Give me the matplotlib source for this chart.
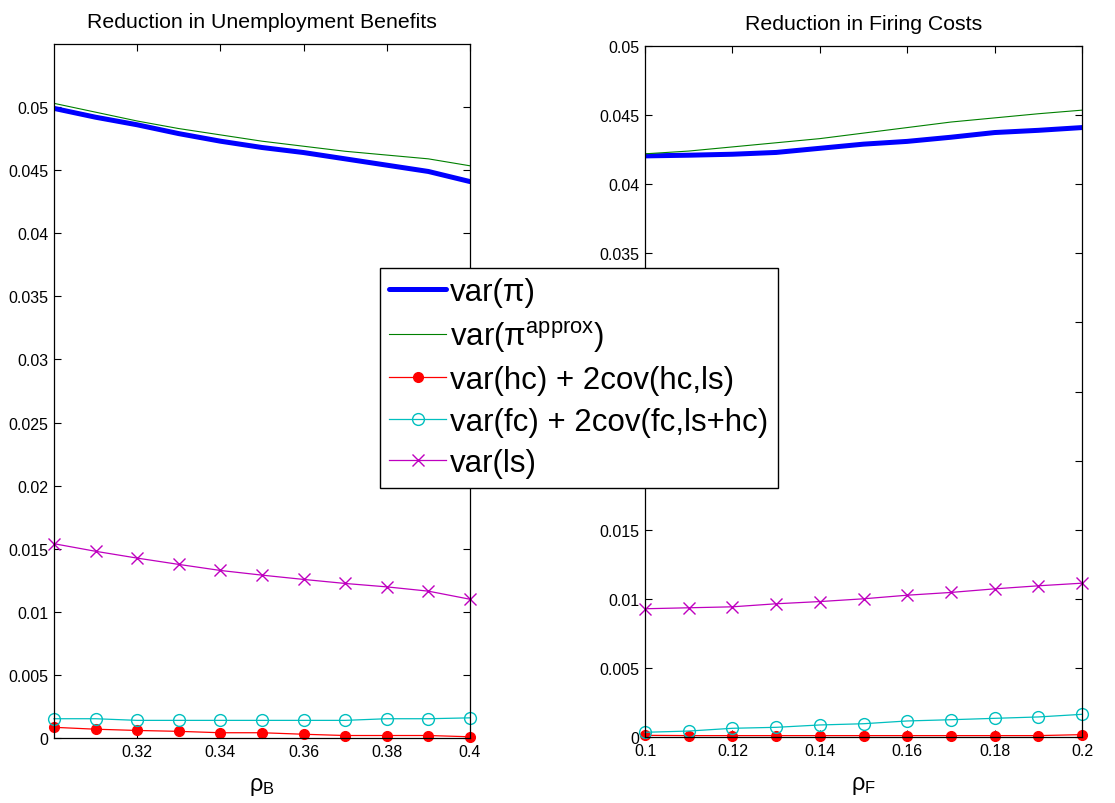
import matplotlib
matplotlib.use("Agg")
import matplotlib.pyplot as plt

plt.rcParams['font.family'] = ['Liberation Sans', 'DejaVu Sans']
plt.rcParams['mathtext.fontset'] = 'custom'
plt.rcParams['mathtext.rm'] = 'Liberation Sans'
plt.rcParams['mathtext.it'] = 'Liberation Sans'

# ---------------- data ----------------
rho_B = [0.30, 0.31, 0.32, 0.33, 0.34, 0.35, 0.36, 0.37, 0.38, 0.39, 0.40]
B_var_pi = [0.0499, 0.0492, 0.0486, 0.0479, 0.0473, 0.0468, 0.0464, 0.0459, 0.0454, 0.0449, 0.0441]
B_var_pi_approx = [0.0503, 0.0496, 0.0489, 0.0483, 0.0478, 0.0473, 0.0469, 0.0465, 0.0462, 0.0459, 0.04535]
B_hc = [0.00085, 0.0007, 0.0006, 0.00053, 0.00042, 0.00042, 0.0003, 0.0002, 0.0002, 0.0002, 0.0001]
B_fc = [0.00153, 0.00153, 0.0014, 0.0014, 0.0014, 0.0014, 0.0014, 0.0014, 0.00153, 0.00153, 0.0016]
B_ls = [0.0154, 0.0148, 0.01426, 0.01376, 0.01328, 0.01291, 0.01257, 0.01225, 0.01198, 0.01164, 0.0110]

rho_F = [0.10, 0.11, 0.12, 0.13, 0.14, 0.15, 0.16, 0.17, 0.18, 0.19, 0.20]
F_var_pi = [0.04205, 0.0421, 0.04217, 0.0423, 0.0426, 0.0429, 0.0431, 0.0434, 0.04374, 0.0439, 0.0441]
F_var_pi_approx = [0.0422, 0.0424, 0.0427, 0.0430, 0.0433, 0.0437, 0.0441, 0.0445, 0.0448, 0.0451, 0.04536]
F_hc = [0.00012, 0.0001, 0.0001, 0.0001, 0.0001, 0.0001, 0.0001, 0.0001, 0.0001, 0.0001, 0.00017]
F_fc = [0.00034, 0.00043, 0.00063, 0.0007, 0.00087, 0.00096, 0.00116, 0.00125, 0.00135, 0.00145, 0.00164]
F_ls = [0.00928, 0.00935, 0.00942, 0.00964, 0.0098, 0.0100, 0.01026, 0.01046, 0.01072, 0.01094, 0.01113]

titles = ["Reduction in Unemployment Benefits", "Reduction in Firing Costs"]
xlabels = [r"ρ$_{\rm B}$", r"ρ$_{\rm F}$"]
B_xticks = [0.32, 0.34, 0.36, 0.38, 0.40]
B_xticklabels = ["0.32", "0.34", "0.36", "0.38", "0.4"]
F_xticks = [0.10, 0.12, 0.14, 0.16, 0.18, 0.20]
F_xticklabels = ["0.1", "0.12", "0.14", "0.16", "0.18", "0.2"]
yticks = [0, 0.005, 0.01, 0.015, 0.02, 0.025, 0.03, 0.035, 0.04, 0.045, 0.05]
yticklabels = ["0", "0.005", "0.01", "0.015", "0.02", "0.025", "0.03", "0.035", "0.04", "0.045", "0.05"]
legend_labels = ["var(π)", r"var(π$^{\rm approx}$)", "var(hc) + 2cov(hc,ls)",
                 "var(fc) + 2cov(fc,ls+hc)", "var(ls)"]

C_BLUE = (0, 0, 1)
C_GREEN = (0, 0.5, 0)
C_RED = (1, 0, 0)
C_CYAN = (0, 0.75, 0.75)
C_MAG = (0.75, 0, 0.75)

fig = plt.figure(figsize=(11.15, 8.04), dpi=100)
ax1 = fig.add_axes([0.0484, 0.0808, 0.3731, 0.8632])
ax2 = fig.add_axes([0.5785, 0.0821, 0.3919, 0.8594])


def draw(ax, x, vp, vpa, hc, fc, ls):
    h = []
    h += ax.plot(x, vp, color=C_BLUE, lw=3.6, solid_capstyle='round')
    h += ax.plot(x, vpa, color=C_GREEN, lw=0.8)
    h += ax.plot(x, hc, color=C_RED, lw=0.9, marker='o', ms=7, mfc=C_RED, mec=C_RED, clip_on=False)
    h += ax.plot(x, fc, color=C_CYAN, lw=0.9, marker='o', ms=8.5, mfc='none', mec=C_CYAN, mew=1.0, clip_on=False)
    h += ax.plot(x, ls, color=C_MAG, lw=0.9, marker='x', ms=9, mec=C_MAG, mew=1.0, clip_on=False)
    return h


handles = draw(ax1, rho_B, B_var_pi, B_var_pi_approx, B_hc, B_fc, B_ls)
draw(ax2, rho_F, F_var_pi, F_var_pi_approx, F_hc, F_fc, F_ls)

ax1.set_xlim(0.30, 0.40)
ax1.set_ylim(0, 0.055)
ax1.set_xticks(B_xticks)
ax1.set_xticklabels(B_xticklabels)
ax2.set_xlim(0.10, 0.20)
ax2.set_ylim(0, 0.05)
ax2.set_xticks(F_xticks)
ax2.set_xticklabels(F_xticklabels)

for ax, t, xl in zip([ax1, ax2], titles, xlabels):
    ax.set_yticks(yticks)
    ax.set_yticklabels(yticklabels)
    ax.tick_params(direction='in', top=True, right=True, length=5, width=0.8,
                   labelsize=11.5, pad=4)
    ax.set_title(t, fontsize=15.3, pad=12)
    ax.set_xlabel(xl, fontsize=17, labelpad=12)
    for s in ax.spines.values():
        s.set_linewidth(0.9)

leg = fig.legend(handles, legend_labels, loc='center', bbox_to_anchor=(0.5193, 0.529),
                 fontsize=22.5, frameon=True, fancybox=False, framealpha=1,
                 edgecolor='black', handlelength=1.8, handletextpad=0.15,
                 labelspacing=0.37, borderpad=0.3, borderaxespad=0)
leg.get_frame().set_linewidth(1.0)

fig.savefig("out.png", dpi=100)
